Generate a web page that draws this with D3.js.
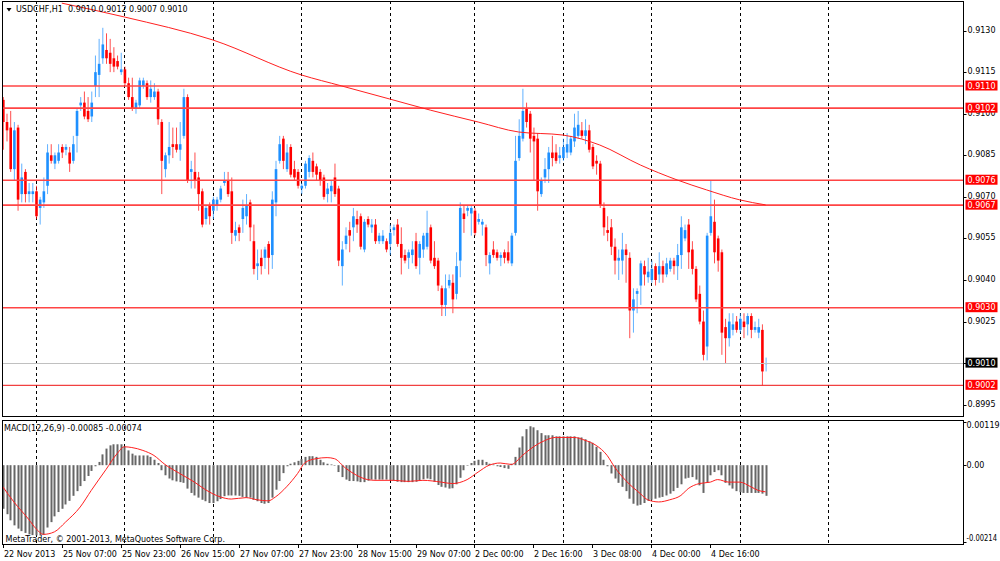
<!DOCTYPE html>
<html>
<head>
<meta charset="utf-8">
<script src="https://cdn.jsdelivr.net/npm/d3@7"></script>
<style>
  body { margin: 0; background: #fff; }
  svg text { font-family: "DejaVu Sans", Tahoma, sans-serif; font-size: 8px; fill: #000; white-space: pre; }
</style>
</head>
<body>
<svg id="chart" width="1000" height="561"></svg>
<script>
// USDCHF H1 bars, 22 Nov 2013 -> 4 Dec 2013
const open = [
  .9105,.9097,.9095,.9080,.9095,.9071,.9079,.9071,.9071,.9072,
  .9066,.9068,.9074,.9085,.9082,.9083,.9088,.9087,.9086,.9083,
  .9092,.9103,.9104,.9101,.9099,.9110,.9114,.9120,.9123,.9122,
  .9120,.9119,.9115,.9116,.9111,.9106,.9102,.9103,.9110,.9111,
  .9106,.9106,.9108,.9097,.9080,.9085,.9089,.9089,.9087,.9092,
  .9106,.9079,.9079,.9077,.9072,.9062,.9067,.9065,.9067,.9069,
  .9075,.9076,.9072,.9056,.9059,.9062,.9063,.9068,.9054,.9045,
  .9048,.9048,.9053,.9049,.9068,.9083,.9091,.9080,.9088,.9080,
  .9079,.9073,.9074,.9079,.9083,.9081,.9079,.9077,.9071,.9072,
  .9077,.9073,.9045,.9053,.9058,.9059,.9062,.9063,.9051,.9062,
  .9059,.9060,.9054,.9054,.9054,.9053,.9058,.9060,.9053,.9049,
  .9048,.9049,.9054,.9048,.9051,.9052,.9059,.9048,.9047,.9037,
  .9031,.9038,.9039,.9035,.9047,.9064,.9065,.9064,.9065,.9061,
  .9060,.9059,.9046,.9051,.9050,.9048,.9050,.9050,.9046,.9057,
  .9084,.9091,.9102,.9100,.9092,.9091,.9071,.9077,.9080,.9086,
  .9086,.9084,.9084,.9086,.9086,.9090,.9092,.9094,.9092,.9094,
  .9088,.9083,.9082,.9066,.9058,.9059,.9052,.9047,.9047,.9051,
  .9048,.9029,.9035,.9038,.9045,.9041,.9040,.9045,.9042,.9045,
  .9042,.9044,.9047,.9045,.9049,.9055,.9060,.9051,.9044,.9035,
  .9025,.9016,.9057,.9061,.9055,.9050,.9023,.9019,.9022,.9025,
  .9022,.9025,.9024,.9027,.9022,.9021,.9022,.9010
];
const high = [
  .9106,.9100,.9101,.9097,.9096,.9082,.9080,.9075,.9075,.9074,
  .9070,.9077,.9089,.9089,.9086,.9089,.9089,.9089,.9088,.9092,
  .9102,.9106,.9108,.9106,.9108,.9121,.9127,.9131,.9129,.9127,
  .9124,.9121,.9122,.9117,.9113,.9113,.9105,.9113,.9113,.9112,
  .9112,.9111,.9109,.9098,.9086,.9097,.9095,.9095,.9097,.9109,
  .9107,.9083,.9086,.9079,.9073,.9067,.9068,.9070,.9070,.9074,
  .9079,.9079,.9077,.9061,.9060,.9069,.9071,.9069,.9060,.9051,
  .9051,.9052,.9054,.9072,.9083,.9092,.9092,.9089,.9089,.9083,
  .9080,.9075,.9083,.9085,.9086,.9082,.9080,.9078,.9075,.9076,
  .9082,.9074,.9054,.9059,.9061,.9066,.9065,.9064,.9062,.9063,
  .9062,.9062,.9057,.9058,.9055,.9060,.9060,.9062,.9059,.9051,
  .9051,.9054,.9057,.9054,.9057,.9065,.9060,.9054,.9048,.9038,
  .9042,.9042,.9042,.9050,.9068,.9067,.9067,.9067,.9066,.9064,
  .9062,.9060,.9050,.9054,.9051,.9050,.9051,.9054,.9057,.9092,
  .9098,.9109,.9104,.9101,.9095,.9093,.9077,.9084,.9088,.9092,
  .9089,.9088,.9091,.9093,.9092,.9100,.9101,.9097,.9098,.9096,
  .9089,.9085,.9083,.9068,.9063,.9062,.9055,.9051,.9057,.9053,
  .9050,.9037,.9037,.9047,.9047,.9048,.9047,.9046,.9050,.9047,
  .9048,.9048,.9048,.9053,.9063,.9060,.9062,.9054,.9045,.9038,
  .9029,.9057,.9076,.9069,.9056,.9051,.9026,.9028,.9028,.9027,
  .9028,.9028,.9028,.9028,.9025,.9026,.9024,.9012
];
const low = [
  .9087,.9090,.9079,.9076,.9065,.9068,.9068,.9068,.9068,.9062,
  .9060,.9066,.9071,.9082,.9080,.9082,.9084,.9085,.9079,.9082,
  .9086,.9101,.9098,.9097,.9097,.9106,.9106,.9118,.9118,.9115,
  .9115,.9116,.9114,.9110,.9105,.9101,.9100,.9102,.9109,.9105,
  .9104,.9105,.9096,.9071,.9077,.9082,.9084,.9086,.9083,.9091,
  .9075,.9073,.9073,.9065,.9059,.9060,.9060,.9062,.9065,.9068,
  .9074,.9070,.9053,.9054,.9054,.9057,.9060,.9054,.9042,.9040,
  .9042,.9044,.9042,.9044,.9063,.9082,.9080,.9079,.9077,.9076,
  .9073,.9071,.9073,.9077,.9077,.9076,.9074,.9069,.9068,.9068,
  .9070,.9045,.9038,.9051,.9050,.9054,.9057,.9051,.9050,.9059,
  .9057,.9053,.9053,.9053,.9050,.9049,.9056,.9052,.9042,.9046,
  .9044,.9046,.9044,.9042,.9048,.9051,.9046,.9044,.9036,.9027,
  .9027,.9037,.9028,.9033,.9041,.9057,.9063,.9056,.9056,.9060,
  .9056,.9045,.9042,.9048,.9047,.9045,.9046,.9046,.9045,.9056,
  .9083,.9090,.9095,.9086,.9076,.9065,.9070,.9075,.9075,.9081,
  .9082,.9082,.9083,.9084,.9085,.9088,.9091,.9091,.9089,.9086,
  .9080,.9078,.9066,.9056,.9054,.9049,.9042,.9040,.9042,.9039,
  .9019,.9021,.9028,.9031,.9038,.9039,.9039,.9038,.9039,.9039,
  .9041,.9043,.9042,.9040,.9044,.9054,.9044,.9042,.9032,.9024,
  .9011,.9011,.9056,.9046,.9043,.9013,.9010,.9016,.9020,.9021,
  .9021,.9019,.9020,.9019,.9021,.9019,.9002,.9007
];
const close = [
  .9097,.9094,.9080,.9094,.9069,.9077,.9071,.9072,.9072,.9063,
  .9069,.9072,.9086,.9083,.9085,.9086,.9086,.9088,.9082,.9089,
  .9101,.9104,.9099,.9098,.9104,.9115,.9118,.9125,.9120,.9118,
  .9117,.9117,.9116,.9111,.9106,.9102,.9104,.9112,.9112,.9106,
  .9109,.9108,.9098,.9083,.9085,.9088,.9088,.9087,.9089,.9106,
  .9076,.9080,.9076,.9071,.9060,.9066,.9063,.9069,.9069,.9073,
  .9076,.9071,.9057,.9058,.9057,.9066,.9067,.9059,.9044,.9046,
  .9045,.9051,.9048,.9069,.9080,.9089,.9083,.9086,.9078,.9077,
  .9074,.9074,.9082,.9084,.9079,.9078,.9076,.9070,.9073,.9074,
  .9071,.9047,.9051,.9056,.9056,.9063,.9060,.9052,.9061,.9060,
  .9060,.9054,.9056,.9056,.9051,.9057,.9059,.9053,.9048,.9047,
  .9050,.9051,.9045,.9053,.9056,.9057,.9047,.9045,.9038,.9031,
  .9037,.9040,.9033,.9045,.9066,.9062,.9066,.9066,.9057,.9062,
  .9061,.9049,.9049,.9049,.9048,.9049,.9048,.9047,.9056,.9083,
  .9092,.9101,.9097,.9091,.9090,.9072,.9076,.9080,.9086,.9084,
  .9083,.9085,.9088,.9089,.9091,.9095,.9096,.9092,.9094,.9087,
  .9081,.9082,.9067,.9059,.9057,.9052,.9047,.9048,.9051,.9049,
  .9029,.9033,.9036,.9046,.9042,.9043,.9044,.9040,.9045,.9042,
  .9046,.9047,.9045,.9049,.9059,.9058,.9050,.9044,.9033,.9025,
  .9013,.9056,.9063,.9050,.9047,.9021,.9019,.9025,.9024,.9022,
  .9026,.9023,.9027,.9022,.9023,.9023,.9007,.9010
];

// moving average line, read at [bar, price]
const maPoints = [
  [16,.91399],[33,.91349],[57,.91266],[81,.91140],[92,.91100],[105,.91053],
  [116,.91013],[129,.90970],[140,.90934],[152,.90923],[162,.90887],[173,.90815],
  [183,.90761],[191,.90725],[200,.90689],[207,.90671]
];

// MACD(12,26,9) main values (histogram) per bar
const macd = [
  -0.00121,-0.00136,-0.00153,-0.00167,-0.00176,-0.00183,-0.00188,-0.00192,-0.00194,-0.00195,
  -0.00195,-0.00193,-0.00173,-0.00158,-0.00142,-0.00130,-0.00121,-0.00109,-0.00099,-0.00085,
  -0.00072,-0.00058,-0.00044,-0.00030,-0.00016,-0.00003,0.00009,0.00030,0.00046,0.00055,
  0.00058,0.00058,0.00058,0.00052,0.00041,0.00032,0.00027,0.00027,0.00027,0.00027,
  0.00023,0.00015,0.00006,-0.00014,-0.00028,-0.00037,-0.00042,-0.00045,-0.00047,-0.00049,
  -0.00065,-0.00077,-0.00084,-0.00090,-0.00096,-0.00100,-0.00105,-0.00105,-0.00100,-0.00094,
  -0.00086,-0.00084,-0.00084,-0.00084,-0.00085,-0.00088,-0.00090,-0.00090,-0.00096,-0.00100,
  -0.00105,-0.00107,-0.00105,-0.00090,-0.00068,-0.00044,-0.00022,-0.00003,0.00004,0.00008,
  0.00012,0.00017,0.00023,0.00025,0.00025,0.00023,0.00015,0.00008,0.00004,0.00002,
  -0.00001,-0.00019,-0.00033,-0.00040,-0.00044,-0.00044,-0.00045,-0.00047,-0.00047,-0.00043,
  -0.00040,-0.00040,-0.00040,-0.00040,-0.00040,-0.00041,-0.00043,-0.00046,-0.00047,-0.00047,
  -0.00047,-0.00047,-0.00046,-0.00042,-0.00039,-0.00037,-0.00039,-0.00046,-0.00055,-0.00060,
  -0.00062,-0.00065,-0.00064,-0.00053,-0.00035,-0.00014,-0.00001,0.00006,0.00012,0.00015,
  0.00015,0.00009,0.00004,0.00002,-0.00003,-0.00005,-0.00008,-0.00010,0.00004,0.00023,
  0.00049,0.00080,0.00100,0.00108,0.00105,0.00097,0.00089,0.00083,0.00083,0.00083,
  0.00080,0.00080,0.00080,0.00080,0.00080,0.00080,0.00077,0.00077,0.00072,0.00066,
  0.00062,0.00051,0.00037,0.00015,-0.00003,-0.00023,-0.00037,-0.00049,-0.00060,-0.00072,
  -0.00093,-0.00107,-0.00112,-0.00110,-0.00105,-0.00099,-0.00096,-0.00093,-0.00090,-0.00088,
  -0.00084,-0.00079,-0.00072,-0.00063,-0.00053,-0.00037,-0.00035,-0.00033,-0.00040,-0.00056,
  -0.00077,-0.00049,-0.00028,-0.00019,-0.00014,-0.00028,-0.00049,-0.00056,-0.00065,-0.00072,
  -0.00075,-0.00077,-0.00077,-0.00077,-0.00077,-0.00077,-0.00079,-0.00085
];

// MACD signal line, read at [bar, value]
const signalPoints = [
  [0,-0.00060],[3,-0.00102],[7,-0.00150],[9,-0.00176],[11,-0.00192],[14,-0.00185],
  [17,-0.00158],[21,-0.00116],[24,-0.00070],[28,-0.00012],[31,0.00032],[33,0.00051],
  [35,0.00049],[38,0.00041],[41,0.00027],[44,0.00002],[48,-0.00023],[52,-0.00047],
  [55,-0.00068],[59,-0.00088],[62,-0.00094],[66,-0.00090],[69,-0.00096],[72,-0.00099],
  [74,-0.00088],[77,-0.00060],[80,-0.00023],[82,0.00007],[85,0.00018],[88,0.00021],
  [90,0.00018],[93,-0.00008],[96,-0.00028],[99,-0.00040],[101,-0.00042],[106,-0.00042],
  [110,-0.00045],[114,-0.00042],[119,-0.00047],[122,-0.00051],[126,-0.00040],[129,-0.00019],
  [132,0.00000],[135,0.00006],[138,0.00002],[141,0.00027],[144,0.00051],[147,0.00068],
  [150,0.00077],[155,0.00077],[158,0.00069],[161,0.00055],[164,0.00027],[166,-0.00005],
  [169,-0.00042],[173,-0.00079],[175,-0.00096],[178,-0.00102],[181,-0.00096],[184,-0.00084],
  [186,-0.00065],[189,-0.00051],[192,-0.00047],[194,-0.00040],[197,-0.00047],[200,-0.00047],
  [203,-0.00060],[205,-0.00070],[207,-0.00074]
];

// horizontal levels drawn on the chart
const levels = [0.9110, 0.9102, 0.9076, 0.9067, 0.9030, 0.9002];
const bid = 0.9010;

// axis ticks / labels
const priceTicks = [0.9130, 0.9115, 0.9100, 0.9085, 0.9070, 0.9055, 0.9040, 0.9025, 0.9010, 0.8995];
const macdTicks = [0.00119, 0, -0.00214];
const macdTickLabels = ["0.00119", "0.00", "-0.00214"];
const dayStartBars = [9, 33, 57, 81, 105, 128, 152, 176, 200, 224];
const timeLabelBars = [0, 16, 32, 48, 64, 80, 96, 112, 128, 144, 160, 176, 192];
const timeLabels = ["22 Nov 2013", "25 Nov 07:00", "25 Nov 23:00", "26 Nov 15:00", "27 Nov 07:00",
  "27 Nov 23:00", "28 Nov 15:00", "29 Nov 07:00", "2 Dec 00:00", "2 Dec 16:00",
  "3 Dec 08:00", "4 Dec 00:00", "4 Dec 16:00"];

//---------------------------------------------------------------------------------------
// cadre des panneaux

const panel = { left: 2, right: 963, mainTop: 1, mainBottom: 416, macdTop: 420, macdBottom: 544 };

const svg = d3.select("#chart");

const bull = "#1E90FF";
const bear = "#FF0000";

const x = d3.scaleLinear().domain([0, 207]).range([2.83, 765.6]);
const y = d3.scaleLinear().domain([0.9002, 0.9110]).range([385.3, 86]);
const ym = d3.scaleLinear().domain([-0.00214, 0.00119]).range([542.3, 422.3]);

const defs = svg.append("defs");
defs.append("clipPath").attr("id", "clipMain").append("rect")
  .attr("x", panel.left).attr("y", panel.mainTop)
  .attr("width", panel.right - panel.left).attr("height", panel.mainBottom - panel.mainTop);
defs.append("clipPath").attr("id", "clipMacd").append("rect")
  .attr("x", panel.left).attr("y", panel.macdTop)
  .attr("width", panel.right - panel.left).attr("height", panel.macdBottom - panel.macdTop);

const gMain = svg.append("g").attr("clip-path", "url(#clipMain)");
const gMacd = svg.append("g").attr("clip-path", "url(#clipMacd)");

// grille verticale (début de journée)
dayStartBars.forEach(b => {
  const xx = Math.round(x(b)) + 0.5;
  [[panel.mainTop, panel.mainBottom, gMain], [panel.macdTop, panel.macdBottom, gMacd]].forEach(([t, bt, g]) => {
    g.append("line")
      .attr("x1", xx).attr("x2", xx).attr("y1", t).attr("y2", bt)
      .attr("stroke", "#000").attr("stroke-width", 1)
      .attr("stroke-dasharray", "3,3");
  });
});

//---------------------------------------------------------------------------------------
// bougies

const bars = d3.range(open.length);

gMain.append("g").selectAll("line")
  .data(bars)
  .join("line")
  .attr("x1", i => x(i) + 0.5).attr("x2", i => x(i) + 0.5)
  .attr("y1", i => y(high[i])).attr("y2", i => y(low[i]))
  .attr("stroke", i => close[i] >= open[i] ? bull : bear)
  .attr("stroke-opacity", 0.7)
  .attr("stroke-width", 1);

gMain.append("g").selectAll("rect")
  .data(bars)
  .join("rect")
  .attr("x", i => x(i) - 0.8)
  .attr("width", 2.6)
  .attr("y", i => y(Math.max(open[i], close[i])))
  .attr("height", i => Math.max(1, Math.abs(y(open[i]) - y(close[i]))))
  .attr("fill", i => close[i] >= open[i] ? bull : bear);

// niveaux horizontaux
gMain.append("line")
  .attr("x1", panel.left).attr("x2", panel.right)
  .attr("y1", Math.round(y(bid)) + 0.5).attr("y2", Math.round(y(bid)) + 0.5)
  .attr("stroke", "#c0c0c0");

gMain.selectAll(".level")
  .data(levels)
  .join("line")
  .attr("class", "level")
  .attr("x1", panel.left).attr("x2", panel.right)
  .attr("y1", d => y(d)).attr("y2", d => y(d))
  .attr("stroke", d => d === 0.9002 ? "#ee1111" : "#ff4444")
  .attr("stroke-width", d => d === 0.9002 ? 1 : 1.6);

// moyenne mobile
gMain.append("path")
  .datum(maPoints)
  .attr("fill", "none")
  .attr("stroke", "#ff2020")
  .attr("stroke-width", 1)
  .attr("d", d3.line().x(d => x(d[0])).y(d => y(d[1])).curve(d3.curveMonotoneX));

//---------------------------------------------------------------------------------------
// MACD

gMacd.append("g").selectAll("rect")
  .data(bars)
  .join("rect")
  .attr("x", i => Math.round(x(i)) - 0.5)
  .attr("width", 2)
  .attr("y", i => Math.min(ym(0), ym(macd[i])))
  .attr("height", i => Math.max(0.5, Math.abs(ym(macd[i]) - ym(0))))
  .attr("fill", "#666666");

gMacd.append("path")
  .datum(signalPoints)
  .attr("fill", "none")
  .attr("stroke", "#ff2020")
  .attr("stroke-width", 1)
  .attr("d", d3.line().x(d => x(d[0])).y(d => ym(d[1])).curve(d3.curveMonotoneX));

//---------------------------------------------------------------------------------------
// bordures

svg.append("rect")
  .attr("x", panel.left + 0.5).attr("y", panel.mainTop + 0.5)
  .attr("width", panel.right - panel.left).attr("height", panel.mainBottom - panel.mainTop)
  .attr("fill", "none").attr("stroke", "#000");
svg.append("rect")
  .attr("x", panel.left + 0.5).attr("y", panel.macdTop + 0.5)
  .attr("width", panel.right - panel.left).attr("height", panel.macdBottom - panel.macdTop)
  .attr("fill", "none").attr("stroke", "#000");

//---------------------------------------------------------------------------------------
// axe des prix

const axisX = panel.right + 0.5;

svg.append("g").selectAll("g")
  .data(priceTicks)
  .join("g")
  .each(function (d) {
    const g = d3.select(this);
    const yy = Math.round(y(d)) + 0.5;
    g.append("line").attr("x1", axisX).attr("x2", axisX + 3).attr("y1", yy).attr("y2", yy).attr("stroke", "#000");
    g.append("text").attr("x", 967.5).attr("y", yy + 1.5).text(d.toFixed(4));
  });

const tags = levels.map(v => ({ v, fill: "#FF0000" })).concat([{ v: bid, fill: "#000" }]);
svg.append("g").selectAll("g")
  .data(tags)
  .join("g")
  .each(function (d) {
    const g = d3.select(this);
    const yy = y(d.v);
    g.append("rect").attr("x", 965.5).attr("y", yy - 5.5).attr("width", 32).attr("height", 10).attr("fill", d.fill);
    g.append("text").attr("x", 967.5).attr("y", yy + 2.5).style("fill", "#fff").text(d.v.toFixed(4));
  });

// axe MACD
svg.append("g").selectAll("g")
  .data(macdTicks)
  .join("g")
  .each(function (d, i) {
    const g = d3.select(this);
    const yy = Math.round(ym(d)) + 0.5;
    g.append("line").attr("x1", axisX).attr("x2", axisX + 3).attr("y1", yy).attr("y2", yy).attr("stroke", "#000");
    const t = g.append("text").attr("x", 966.5).attr("y", [428.3, 467.5, 540.8][i]).text(macdTickLabels[i]);
    if (macdTickLabels[i].length > 7) t.attr("textLength", 30.5).attr("lengthAdjust", "spacingAndGlyphs");
  });

// axe du temps
svg.append("g").selectAll("g")
  .data(timeLabelBars)
  .join("g")
  .each(function (b, i) {
    const g = d3.select(this);
    const xx = Math.round(x(b)) + 0.5;
    g.append("line").attr("x1", xx).attr("x2", xx).attr("y1", panel.macdBottom).attr("y2", panel.macdBottom + 4).attr("stroke", "#000");
    g.append("text").attr("x", xx + 0.5).attr("y", 556.5).text(timeLabels[i]);
  });

//---------------------------------------------------------------------------------------
// titraille

svg.append("path").attr("d", "M6.5,8 L11.5,8 L9,11.5 Z").attr("fill", "#000");
svg.append("text").attr("x", 16).attr("y", 12.3).text("USDCHF,H1  0.9010 0.9012 0.9007 0.9010");
svg.append("text").attr("x", 4).attr("y", 430.5).text("MACD(12,26,9) -0.00085 -0.00074");
svg.append("text").attr("x", 5.5).attr("y", 541.5).text("MetaTrader, \u00A9 2001-2013, MetaQuotes Software Corp.");
</script>
</body>
</html>
